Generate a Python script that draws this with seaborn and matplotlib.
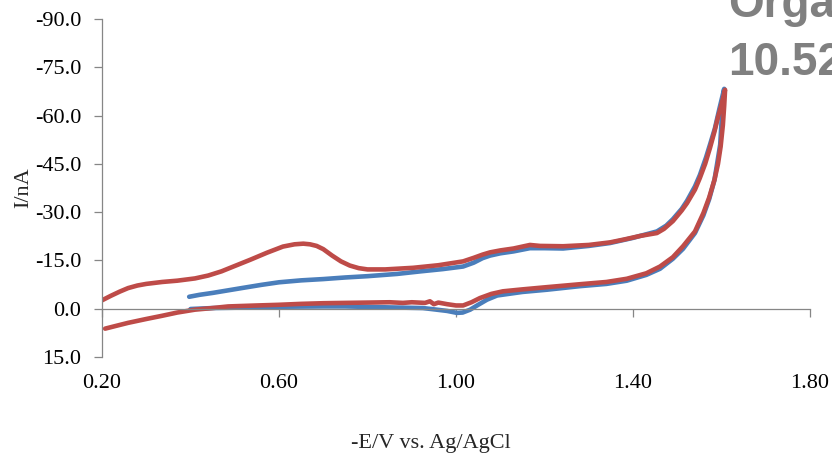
import numpy as np
import pandas as pd
import matplotlib
matplotlib.use("Agg")
import matplotlib.pyplot as plt
import seaborn as sns

# ========================
# Data (-E/V, I/nA)
# ========================
blue_fwd_v = [0.397, 0.42, 0.45, 0.485, 0.52, 0.56, 0.60, 0.65, 0.70, 0.75, 0.80, 0.867,
              0.92, 0.97, 1.016, 1.04, 1.06, 1.077, 1.10, 1.13, 1.167, 1.20, 1.242, 1.30,
              1.348, 1.40, 1.416, 1.454, 1.475, 1.49, 1.51, 1.522, 1.54, 1.551, 1.565,
              1.574, 1.585, 1.595, 1.606]
blue_fwd_i = [-3.7, -4.3, -4.9, -5.7, -6.5, -7.4, -8.2, -8.8, -9.2, -9.7, -10.1, -10.8,
              -11.6, -12.3, -13.1, -14.3, -15.7, -16.5, -17.2, -17.8, -18.8, -18.8, -18.7, -19.5,
              -20.4, -22.0, -22.6, -24.0, -25.8, -27.8, -31.0, -33.5, -38.0, -41.5, -47.0,
              -51.0, -56.0, -62.0, -68.3]
blue_rev_v = [1.603, 1.600, 1.597, 1.590, 1.584, 1.572, 1.559, 1.54, 1.513, 1.49, 1.461, 1.43,
              1.386, 1.34, 1.28, 1.206, 1.15, 1.093, 1.07, 1.05, 1.032, 1.015, 1.002, 0.98,
              0.95, 0.925, 0.85, 0.75, 0.70, 0.60, 0.50, 0.45, 0.40]
blue_rev_i = [-63.0, -58.0, -51.0, -45.0, -40.0, -34.0, -29.0, -23.5, -18.6, -15.5, -12.4, -10.5,
              -8.7, -7.7, -7.0, -5.9, -5.2, -4.1, -2.8, -1.2, 0.3, 1.2, 1.3, 0.7,
              0.2, -0.2, -0.4, -0.7, -0.7, -0.6, -0.3, -0.2, 0.1]

red_fwd_v = [0.200, 0.22, 0.24, 0.259, 0.28, 0.30, 0.336, 0.37, 0.41, 0.44, 0.47, 0.497,
             0.535, 0.573, 0.609, 0.635, 0.655, 0.67, 0.685, 0.70, 0.72, 0.74, 0.76, 0.78,
             0.80, 0.84, 0.903, 0.96, 1.016, 1.04, 1.06, 1.077, 1.10, 1.13, 1.167, 1.19,
             1.242, 1.30, 1.348, 1.38, 1.416, 1.454, 1.47, 1.49, 1.51, 1.522, 1.54, 1.551,
             1.563, 1.574, 1.584, 1.592, 1.600, 1.608]
red_fwd_i = [-2.6, -4.0, -5.3, -6.4, -7.2, -7.7, -8.3, -8.7, -9.4, -10.3, -11.6, -13.1,
             -15.2, -17.4, -19.3, -20.0, -20.2, -20.0, -19.5, -18.5, -16.5, -14.7, -13.4, -12.6,
             -12.2, -12.2, -12.7, -13.5, -14.7, -15.8, -16.8, -17.5, -18.1, -18.7, -19.8, -19.5,
             -19.4, -19.8, -20.6, -21.5, -22.6, -23.5, -24.8, -27.2, -30.5, -32.8, -37.0, -40.6,
             -45.0, -50.0, -55.0, -59.5, -63.5, -68.0]
red_rev_v = [1.606, 1.603, 1.598, 1.592, 1.584, 1.572, 1.559, 1.54, 1.513, 1.49, 1.461, 1.43,
             1.386, 1.34, 1.28, 1.206, 1.15, 1.106, 1.08, 1.054, 1.035, 1.016, 1.00, 0.98,
             0.96, 0.95, 0.941, 0.93, 0.90, 0.88, 0.85, 0.80, 0.749, 0.70, 0.65, 0.598,
             0.55, 0.485, 0.45, 0.41, 0.37, 0.336, 0.30, 0.259, 0.23, 0.207]
red_rev_i = [-63.0, -57.0, -50.4, -45.0, -40.0, -34.5, -29.7, -24.0, -19.4, -16.0, -13.1, -11.0,
             -9.3, -8.3, -7.6, -6.7, -6.0, -5.4, -4.6, -3.3, -2.0, -1.0, -1.0, -1.4,
             -1.9, -1.4, -2.3, -1.8, -2.0, -1.8, -2.0, -1.9, -1.8, -1.7, -1.5, -1.2,
             -1.0, -0.7, -0.2, 0.3, 1.2, 2.2, 3.2, 4.4, 5.4, 6.2]

y_ticks = [-90, -75, -60, -45, -30, -15, 0, 15]
x_ticks = [0.2, 0.6, 1.0, 1.4, 1.8]

df = pd.concat([
    pd.DataFrame({"V": blue_fwd_v + blue_rev_v, "I": blue_fwd_i + blue_rev_i, "run": "blue"}),
    pd.DataFrame({"V": red_fwd_v + red_rev_v, "I": red_fwd_i + red_rev_i, "run": "red"}),
], ignore_index=True)

# ========================
# Plot
# ========================
sns.set_theme(style="white")
plt.rcParams["font.family"] = ["Liberation Serif", "DejaVu Serif"]
plt.rcParams["axes.unicode_minus"] = False

fig = plt.figure(figsize=(8.32, 4.63), dpi=100)
ax = fig.add_axes([0.1226, 0.229, 0.851, 0.730])

sns.lineplot(data=df, x="V", y="I", hue="run", hue_order=["blue", "red"],
             palette={"blue": "#4A7EBB", "red": "#BE4B48"}, sort=False,
             estimator=None, linewidth=3.3, legend=False, ax=ax)
for line in ax.get_lines():
    line.set_solid_capstyle("round")
    line.set_solid_joinstyle("round")

ax.set_xlim(0.2, 1.8)
ax.set_ylim(15, -90)
ax.set_yticks(y_ticks)
ax.set_yticklabels([f"{t:.1f}" for t in y_ticks])
ax.set_xticks(x_ticks)
ax.set_xticklabels([f"{t:.2f}" for t in x_ticks])

grey = "#868686"
for side in ["top", "right"]:
    ax.spines[side].set_visible(False)
ax.spines["bottom"].set_position(("data", 0))
for side in ["left", "bottom"]:
    ax.spines[side].set_color(grey)
    ax.spines[side].set_linewidth(0.9)

ax.tick_params(axis="both", direction="out", length=6, width=0.9, color=grey,
               labelsize=16, labelcolor="black")
ax.tick_params(axis="y", pad=9, left=True)
ax.tick_params(axis="x", pad=41, bottom=True)

ax.set_xlabel("")
ax.set_ylabel("I/nA", fontsize=16, labelpad=1)
fig.text(431 / 832, 1 - 448 / 463, "-E/V vs. Ag/AgCl", fontsize=16,
         ha="center", va="baseline")

# cut-off slide text in the top right corner
fig.text(728 / 832, 1 - 17 / 463, "Orga", fontsize=33, fontweight="bold",
         color="#808080", family="Liberation Sans", va="baseline", ha="left")
fig.text(728 / 832, 1 - 75 / 463, "10.52", fontsize=33, fontweight="bold",
         color="#808080", family="Liberation Sans", va="baseline", ha="left")

fig.savefig("out.png", dpi=100, facecolor="white")
